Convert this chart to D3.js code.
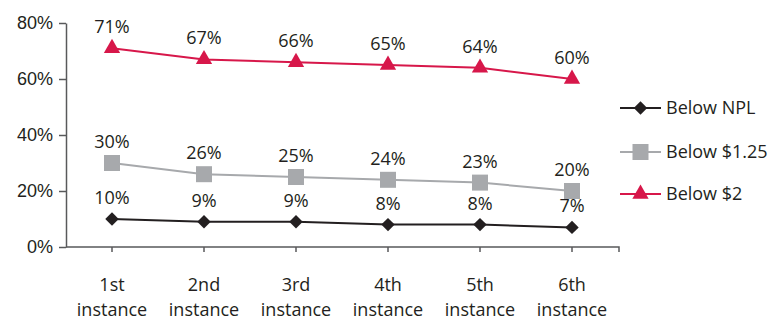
<!DOCTYPE html>
<html>
<head>
<meta charset="utf-8">
<script src="https://cdn.jsdelivr.net/npm/d3@7"></script>
<style>
  html, body { margin: 0; padding: 0; background: #fff; }
  svg { display: block; font-family: "Open Sans", "Noto Sans", sans-serif; }
</style>
</head>
<body>
<svg id="chart" width="772" height="321"></svg>
<script>
const categories = ["1st instance", "2nd instance", "3rd instance", "4th instance", "5th instance", "6th instance"];
const belowNPL = [10, 9, 9, 8, 8, 7];
const below125 = [30, 26, 25, 24, 23, 20];
const below2 = [71, 67, 66, 65, 64, 60];
const yTicks = [0, 20, 40, 60, 80];

const series = [
  { name: "Below NPL", values: belowNPL, color: "#231f20", symbol: d3.symbolDiamond2, size: 115 },
  { name: "Below $1.25", values: below125, color: "#a7a9ac", symbol: d3.symbolSquare, size: 256 },
  { name: "Below $2", values: below2, color: "#d7174a", symbol: d3.symbolTriangle, size: 115 }
];

const svg = d3.select("#chart");
const plot = { left: 66, right: 618, top: 23, bottom: 247 };
const fontSize = 18;

const x = d3.scaleBand().domain(categories).range([plot.left, plot.right]);
const y = d3.scaleLinear().domain([0, 80]).range([plot.bottom, plot.top]);
const cx = c => x(c) + x.bandwidth() / 2;

const axisColor = "#58595b";
const textColor = "#231f20";

// y axis
const yAxis = svg.append("g").attr("transform", `translate(${plot.left},0)`)
  .call(d3.axisLeft(y).tickValues(yTicks).tickFormat(d => d + "%").tickSize(7).tickSizeOuter(0));
yAxis.select(".domain").attr("stroke", axisColor).attr("stroke-width", 1.5);
yAxis.selectAll(".tick line").attr("stroke", axisColor).attr("stroke-width", 1.5);
yAxis.selectAll(".tick text").attr("fill", textColor).attr("font-size", fontSize).attr("x", -13);

// x axis
const xAxis = svg.append("g").attr("transform", `translate(0,${plot.bottom})`)
  .call(d3.axisBottom(x).tickSize(5).tickSizeOuter(5).tickFormat(""));
xAxis.select(".domain").attr("stroke", axisColor).attr("stroke-width", 1.5)
  .attr("d", `M${plot.left},0H${plot.right + 1}V5`);
xAxis.selectAll(".tick line").attr("stroke", axisColor).attr("stroke-width", 1.5);

// two-line category labels
const xl = svg.append("g");
categories.forEach(c => {
  const parts = c.split(" ");
  const t = xl.append("text").attr("x", cx(c)).attr("text-anchor", "middle")
    .attr("fill", textColor).attr("font-size", fontSize);
  t.append("tspan").attr("x", cx(c)).attr("y", 291).text(parts[0]);
  t.append("tspan").attr("x", cx(c)).attr("y", 316).text(parts[1]);
});

// series lines, markers, value labels
const line = d3.line().x((d, i) => cx(categories[i])).y(d => y(d));
series.forEach(s => {
  const g = svg.append("g");
  g.append("path").datum(s.values).attr("d", line)
    .attr("fill", "none").attr("stroke", s.color).attr("stroke-width", 2);
  g.selectAll("path.m").data(s.values).join("path").attr("class", "m")
    .attr("transform", (d, i) => `translate(${cx(categories[i])},${y(d)})`)
    .attr("d", d3.symbol().type(s.symbol).size(s.size)).attr("fill", s.color);
  g.selectAll("text").data(s.values).join("text")
    .attr("x", (d, i) => cx(categories[i])).attr("y", d => y(d) - 15)
    .attr("text-anchor", "middle").attr("fill", textColor).attr("font-size", fontSize)
    .text(d => d + "%");
});

// legend
const legendY = [108, 152, 194];
series.forEach((s, i) => {
  const g = svg.append("g").attr("transform", `translate(620,${legendY[i]})`);
  g.append("line").attr("x1", 0).attr("x2", 41).attr("stroke", s.color).attr("stroke-width", 2);
  g.append("path").attr("transform", "translate(20.5,0)")
    .attr("d", d3.symbol().type(s.symbol).size(s.size)).attr("fill", s.color);
  g.append("text").attr("x", 46).attr("y", 6).attr("fill", textColor).attr("font-size", fontSize).text(s.name);
});
</script>
</body>
</html>
